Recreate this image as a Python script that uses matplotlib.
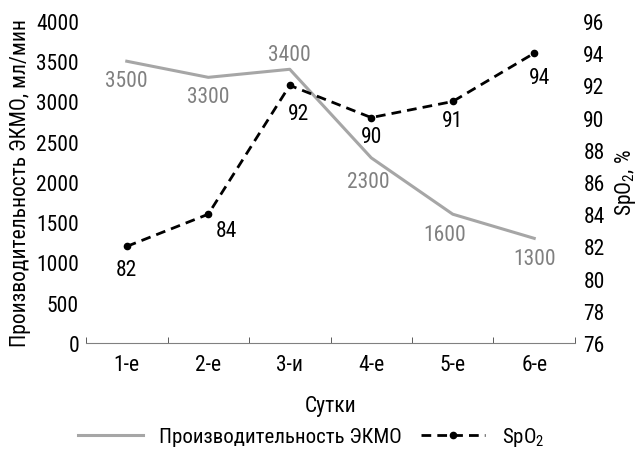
import matplotlib
matplotlib.use("Agg")
import matplotlib.pyplot as plt
from matplotlib.ticker import FixedLocator, NullFormatter

plt.rcParams['font.family'] = ['Roboto Condensed', 'DejaVu Sans']
plt.rcParams['mathtext.fontset'] = 'custom'
plt.rcParams['mathtext.rm'] = 'Roboto Condensed'
plt.rcParams['mathtext.it'] = 'Roboto Condensed'

# данные
days = ['1-е', '2-е', '3-и', '4-е', '5-е', '6-е']
ecmo = [3500, 3300, 3400, 2300, 1600, 1300]
spo2 = [82, 84, 92, 90, 91, 94]

gray = '#a6a6a6'
gray_txt = '#808080'
fs = 15.5

fig = plt.figure(figsize=(6.42, 4.56), dpi=100)
ax = fig.add_axes([0.134, 0.2456, 0.7616, 0.7062])
ax2 = ax.twinx()

x = list(range(len(days)))
l1, = ax.plot(x, ecmo, color=gray, lw=2.2, label='Производительность ЭКМО')
l2, = ax2.plot(x, spo2, color='black', lw=2.0, ls=(0, (3.5, 2.2)),
               marker='o', ms=4.5, label='SpO$_2$')

ax.set_xlim(-0.5, 5.5)
ax.set_ylim(0, 4000)
ax2.set_ylim(76, 96)
ax.set_yticks(range(0, 4001, 500))
ax2.set_yticks(range(76, 97, 2))

ax.set_xticks(x)
ax.set_xticklabels(days, fontsize=fs)
ax.tick_params(axis='x', length=0, pad=8)
ax.xaxis.set_minor_locator(FixedLocator([i - 0.5 for i in range(7)]))
ax.xaxis.set_minor_formatter(NullFormatter())
ax.tick_params(axis='x', which='minor', direction='in', length=4, color='#404040')
ax.tick_params(axis='y', length=0, labelsize=fs, pad=5)
ax2.tick_params(axis='y', length=0, labelsize=fs, pad=6)

for a in (ax, ax2):
    for s in ('top', 'left', 'right'):
        a.spines[s].set_visible(False)
    a.spines['bottom'].set_color('#808080')
ax2.spines['bottom'].set_visible(False)

ax.set_xlabel('Сутки', fontsize=fs, labelpad=14)
ax.set_ylabel('Производительность ЭКМО, мл/мин', fontsize=fs, labelpad=4)
ax2.set_ylabel('SpO$_2$, %', fontsize=fs, labelpad=6)

# подписи значений
ecmo_off = [(0, -19), (0, -19), (0, 15), (-3, -24), (-8, -20), (0, -20)]
for i, v in enumerate(ecmo):
    dx, dy = ecmo_off[i]
    ax.annotate(str(v), (i, v), xytext=(dx, dy), textcoords='offset pixels',
                ha='center', va='center', color=gray_txt, fontsize=fs)
spo2_off = [(0, -23), (18, -16), (9, -28), (0, -19), (0, -19), (5, -24)]
for i, v in enumerate(spo2):
    dx, dy = spo2_off[i]
    ax2.annotate(str(v), (i, v), xytext=(dx, dy), textcoords='offset pixels',
                 ha='center', va='center', color='black', fontsize=fs)

fig.legend([l1, l2], [l1.get_label(), l2.get_label()], loc='center',
           bbox_to_anchor=(0.485, 0.04), ncol=2, frameon=False, fontsize=15,
           handlelength=3.1, columnspacing=0.9, handletextpad=0.8)

fig.savefig('out.png', dpi=100)
